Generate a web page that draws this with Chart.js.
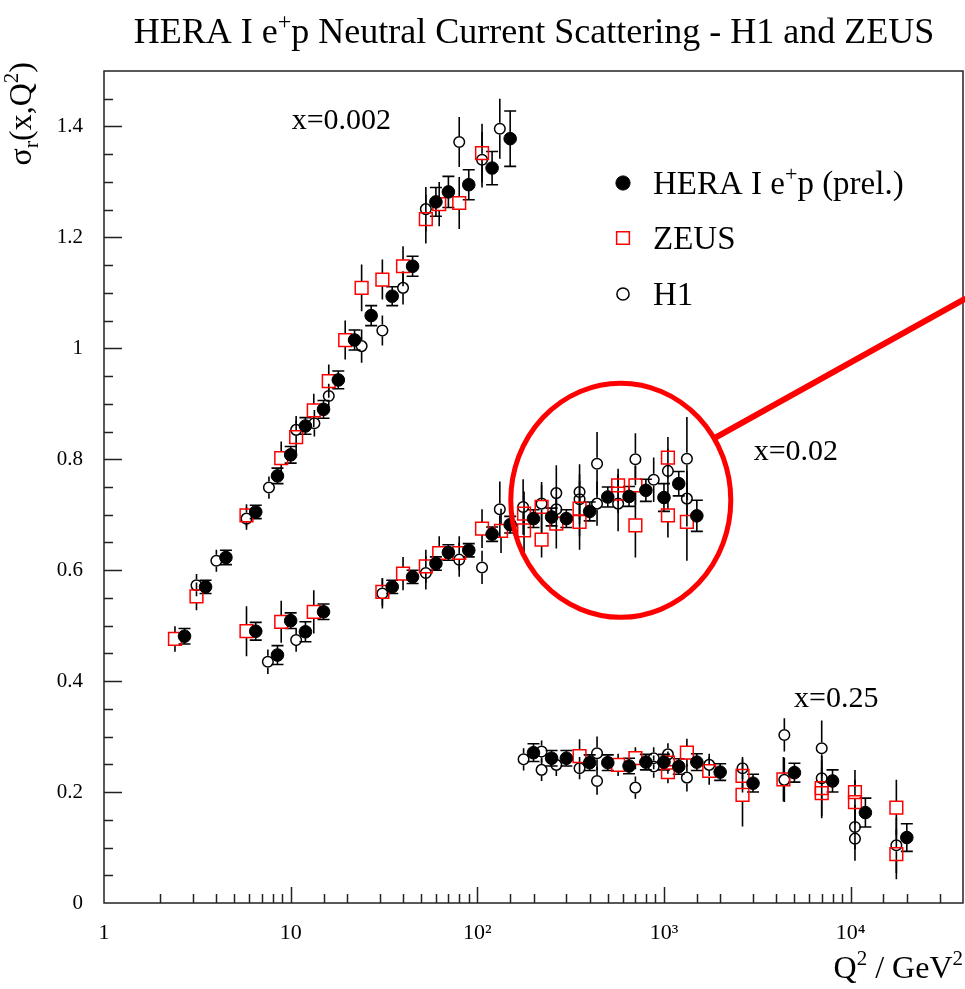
<!DOCTYPE html>
<html>
<head>
<meta charset="utf-8">
<title>HERA I e+p Neutral Current Scattering - H1 and ZEUS</title>
<script src="https://cdn.jsdelivr.net/npm/chart.js@4.4.1/dist/chart.umd.min.js"></script>
<style>
  html, body { margin: 0; padding: 0; background: #fff; }
  #c { display: block; }
</style>
</head>
<body>
<canvas id="c" width="965" height="989"></canvas>
<script>
// Valores: Q^2 (GeV^2), sigma_r, error.
// Cada serie recorre los tres bins x = 0.002, 0.02 y 0.25 en orden.

// HERA I e+p combinado (prel.)
const heraQ2 = [
  2.7, 3.5, 4.5, 6.5, 8.5, 10, 12, 15, 18, 22, 27, 35, 45, 60, 70, 90, 120, 150,
  6.5, 8.5, 10, 12, 15, 35, 45, 60, 70, 90, 120, 150, 200, 250, 300, 400, 500, 650, 800, 1000, 1200, 1500,
  200, 250, 300, 400, 500, 650, 800, 1000, 1200, 1500, 2000, 3000, 5000, 8000, 12000, 20000
];
const heraSigma = [
  0.481, 0.570, 0.623, 0.705, 0.770, 0.808, 0.860, 0.890, 0.943, 1.015, 1.059, 1.094, 1.148, 1.264, 1.282, 1.295, 1.325, 1.378,
  0.490, 0.447, 0.509, 0.489, 0.525, 0.570, 0.588, 0.612, 0.632, 0.636, 0.665, 0.682, 0.693, 0.696, 0.693, 0.706, 0.732, 0.733, 0.744, 0.731, 0.756, 0.698,
  0.271, 0.261, 0.261, 0.253, 0.253, 0.247, 0.254, 0.254, 0.246, 0.254, 0.236, 0.216, 0.235, 0.220, 0.163, 0.118
];
const heraErr = [
  0.014, 0.012, 0.013, 0.012, 0.014, 0.015, 0.015, 0.016, 0.016, 0.018, 0.018, 0.017, 0.018, 0.026, 0.028, 0.027, 0.030, 0.050,
  0.016, 0.017, 0.014, 0.018, 0.014, 0.012, 0.012, 0.012, 0.014, 0.012, 0.013, 0.015, 0.016, 0.016, 0.016, 0.017, 0.018, 0.018, 0.020, 0.025, 0.022, 0.028,
  0.016, 0.014, 0.014, 0.014, 0.014, 0.014, 0.014, 0.014, 0.014, 0.015, 0.015, 0.016, 0.017, 0.020, 0.026, 0.025
];

// ZEUS
const zeusQ2 = [
  2.4, 3.13, 5.8, 8.9, 10.7, 13.3, 16, 19.6, 24, 31, 40, 53, 62.5, 80, 106,
  5.8, 8.9, 13.3, 31, 40, 53, 62.5, 80, 106, 134, 178, 178, 221, 221, 265, 353, 353, 568, 568, 703, 703, 1050, 1050, 1327,
  353, 568, 703, 1050, 1050, 1327, 1747, 2635, 2635, 4365, 7000, 7000, 10550, 10550, 17580, 17580
];
const zeusSigma = [
  0.476, 0.553, 0.699, 0.802, 0.840, 0.888, 0.941, 1.015, 1.109, 1.124, 1.148, 1.233, 1.260, 1.262, 1.352,
  0.490, 0.507, 0.525, 0.561, 0.594, 0.607, 0.631, 0.631, 0.675, 0.671, 0.702, 0.672, 0.714, 0.655, 0.684, 0.711, 0.687, 0.753, 0.738, 0.753, 0.681, 0.803, 0.699, 0.687,
  0.265, 0.249, 0.261, 0.253, 0.236, 0.271, 0.238, 0.229, 0.195, 0.223, 0.207, 0.198, 0.200, 0.182, 0.172, 0.088
];
const zeusErr = [
  0.023, 0.025, 0.020, 0.030, 0.030, 0.030, 0.030, 0.035, 0.042, 0.036, 0.036, 0.044, 0.040, 0.047, 0.053,
  0.045, 0.038, 0.039, 0.025, 0.030, 0.030, 0.030, 0.030, 0.035, 0.040, 0.040, 0.040, 0.045, 0.032, 0.045, 0.050, 0.050, 0.030, 0.035, 0.035, 0.058, 0.037, 0.040, 0.070,
  0.030, 0.020, 0.020, 0.020, 0.020, 0.025, 0.025, 0.030, 0.057, 0.040, 0.050, 0.045, 0.040, 0.040, 0.050, 0.045
];

// H1
const h1Q2 = [
  3.13, 4.0, 5.8, 7.65, 10.7, 13.4, 16, 24, 31, 40, 53, 80, 106, 132,
  7.55, 10.7, 31, 53, 80, 106, 132, 176, 221, 265, 265, 353, 353, 438, 438, 568, 703, 881, 1050, 1327, 1327,
  177, 221, 221, 265, 353, 438, 438, 703, 881, 881, 1050, 1327, 1747, 2635, 4415, 4415, 7000, 7000, 10550, 10550, 17580
];
const h1Sigma = [
  0.573, 0.617, 0.693, 0.749, 0.853, 0.865, 0.914, 1.004, 1.032, 1.109, 1.251, 1.372, 1.340, 1.396,
  0.435, 0.474, 0.558, 0.595, 0.619, 0.605, 0.710, 0.714, 0.720, 0.739, 0.710, 0.741, 0.728, 0.792, 0.720, 0.720, 0.800, 0.763, 0.779, 0.801, 0.729,
  0.259, 0.240, 0.273, 0.249, 0.243, 0.270, 0.220, 0.208, 0.261, 0.246, 0.268, 0.226, 0.249, 0.243, 0.303, 0.222, 0.279, 0.225, 0.137, 0.116, 0.104
];
const h1Err = [
  0.020, 0.020, 0.020, 0.020, 0.025, 0.024, 0.022, 0.030, 0.027, 0.030, 0.040, 0.045, 0.050, 0.054,
  0.022, 0.021, 0.027, 0.030, 0.031, 0.030, 0.050, 0.050, 0.033, 0.050, 0.040, 0.050, 0.045, 0.057, 0.040, 0.050, 0.047, 0.040, 0.040, 0.075, 0.050,
  0.020, 0.020, 0.020, 0.020, 0.020, 0.030, 0.025, 0.020, 0.020, 0.020, 0.020, 0.025, 0.020, 0.020, 0.030, 0.040, 0.050, 0.040, 0.040, 0.040, 0.050
];

const seriesNames = ['HERA I e+p (prel.)', 'ZEUS', 'H1'];
const binLabels = ['x=0.002', 'x=0.02', 'x=0.25'];
const xTickLabels = { 1: '1', 10: '10', 100: '10²', 1000: '10³', 10000: '10⁴' };

const SERIF = "'Liberation Serif', 'Times New Roman', serif";
Chart.defaults.font.family = SERIF;
Chart.defaults.color = '#000';

const toPoints = (q, s) => q.map((v, i) => ({ x: v, y: s[i] }));

// texto con super/subindices: partes [texto, tamaño, desplazamiento]
function richWidth(ctx, parts) {
  return parts.reduce((w, p) => {
    ctx.font = p[1] + 'px ' + SERIF;
    return w + ctx.measureText(p[0]).width;
  }, 0);
}
function drawRich(ctx, parts, x, y) {
  parts.forEach(p => {
    ctx.font = p[1] + 'px ' + SERIF;
    ctx.fillText(p[0], x, y + (p[2] || 0));
    x += ctx.measureText(p[0]).width;
  });
}

const decor = {
  id: 'decor',
  // barras de error debajo de los marcadores
  beforeDatasetsDraw(chart) {
    const ctx = chart.ctx, ys = chart.scales.y;
    ctx.save();
    ctx.strokeStyle = '#000';
    ctx.lineWidth = 1.6;
    chart.data.datasets.forEach((ds, i) => {
      const meta = chart.getDatasetMeta(i);
      meta.data.forEach((pt, j) => {
        const v = ds.data[j].y, e = ds.errors[j];
        const yTop = ys.getPixelForValue(v + e), yBot = ys.getPixelForValue(v - e);
        const gap = ds.barGap || 0;
        ctx.beginPath();
        if (pt.y - gap > yTop) { ctx.moveTo(pt.x, yTop); ctx.lineTo(pt.x, pt.y - gap); }
        if (pt.y + gap < yBot) { ctx.moveTo(pt.x, pt.y + gap); ctx.lineTo(pt.x, yBot); }
        if (ds.capHalf) {
          ctx.moveTo(pt.x - ds.capHalf, yTop); ctx.lineTo(pt.x + ds.capHalf, yTop);
          ctx.moveTo(pt.x - ds.capHalf, yBot); ctx.lineTo(pt.x + ds.capHalf, yBot);
        }
        ctx.stroke();
      });
    });
    ctx.restore();
  },
  afterDraw(chart) {
    const ctx = chart.ctx, xs = chart.scales.x, ys = chart.scales.y;
    const { left, right, top, bottom } = chart.chartArea;
    ctx.save();

    // marco y marcas hacia dentro
    ctx.strokeStyle = '#222';
    ctx.lineWidth = 1.5;
    ctx.strokeRect(left, top, right - left, bottom - top);
    ctx.beginPath();
    for (let k = 1; k * 0.05 < ys.max - 1e-9; k++) {
      const py = Math.round(ys.getPixelForValue(k * 0.05)) + 0.5;
      ctx.moveTo(left, py);
      ctx.lineTo(left + (k % 4 === 0 ? 18 : 9), py);
    }
    xs.ticks.forEach(t => {
      if (t.value <= xs.min || t.value >= xs.max) return;
      const lg = Math.log10(t.value);
      const major = Math.abs(lg - Math.round(lg)) < 1e-9;
      const px = Math.round(xs.getPixelForValue(t.value)) + 0.5;
      ctx.moveTo(px, bottom);
      ctx.lineTo(px, bottom - (major ? 16 : 9));
    });
    ctx.stroke();

    ctx.fillStyle = '#000';
    ctx.textBaseline = 'alphabetic';

    // titulo
    const title = [['HERA I e', 36], ['+', 24, -14], ['p Neutral Current Scattering - H1 and ZEUS', 36]];
    drawRich(ctx, title, 534 - richWidth(ctx, title) / 2, 43);

    // titulo eje Y (rotado)
    const yTitle = [['σ', 32], ['r', 22, 7], ['(x,Q', 32], ['2', 21, -13], [')', 32]];
    ctx.save();
    ctx.translate(31, 62);
    ctx.rotate(-Math.PI / 2);
    drawRich(ctx, yTitle, -richWidth(ctx, yTitle), 0);
    ctx.restore();

    // titulo eje X
    const xTitle = [['Q', 32], ['2', 21, -13], [' / GeV', 32], ['2', 21, -13]];
    drawRich(ctx, xTitle, 963 - richWidth(ctx, xTitle), 978);

    // etiquetas de los bins de x
    const binAnchors = [[18.7, 1.414], [5090, 0.816], [8380, 0.371]];
    ctx.font = '30px ' + SERIF;
    ctx.textAlign = 'center';
    binLabels.forEach((lab, i) => {
      ctx.fillText(lab, xs.getPixelForValue(binAnchors[i][0]), ys.getPixelForValue(binAnchors[i][1]) + 10);
    });
    ctx.textAlign = 'left';

    // leyenda
    const legY = [183, 238, 294];
    chart.data.datasets.forEach((ds, i) => {
      const lx = 623, ly = legY[i];
      ctx.save();
      ctx.lineWidth = ds.pointBorderWidth;
      ctx.strokeStyle = ds.pointBorderColor;
      ctx.fillStyle = ds.pointBackgroundColor;
      ctx.beginPath();
      if (ds.pointStyle === 'rect') {
        const h = ds.pointRadius * Math.SQRT1_2;
        ctx.rect(lx - h, ly - h, 2 * h, 2 * h);
      } else {
        ctx.arc(lx, ly, ds.pointRadius + 0.8, 0, Math.PI * 2);
      }
      ctx.fill();
      ctx.stroke();
      ctx.restore();
    });
    ctx.fillStyle = '#000';
    drawRich(ctx, [['HERA I e', 33], ['+', 22, -13], ['p (prel.)', 33]], 653, legY[0] + 11);
    drawRich(ctx, [[seriesNames[1], 33]], 653, legY[1] + 11);
    drawRich(ctx, [[seriesNames[2], 33]], 653, legY[2] + 11);

    // circulo rojo de la zona ampliada
    const cx = xs.getPixelForValue(587), cy = ys.getPixelForValue(0.726);
    const rx = 110, ry = 117, a = 32 * Math.PI / 180;
    ctx.strokeStyle = '#ff0000';
    ctx.lineWidth = 5;
    ctx.beginPath();
    ctx.ellipse(cx, cy, rx, ry, 0, 0, Math.PI * 2);
    ctx.stroke();
    ctx.lineWidth = 6;
    ctx.beginPath();
    ctx.moveTo(cx + rx * Math.cos(a), cy - ry * Math.sin(a));
    ctx.lineTo(cx + 345, cy - 202);
    ctx.stroke();

    ctx.restore();
  }
};

new Chart(document.getElementById('c'), {
  type: 'scatter',
  data: {
    datasets: [
      {
        label: seriesNames[0],
        data: toPoints(heraQ2, heraSigma),
        errors: heraErr,
        capHalf: 6,
        pointStyle: 'circle',
        pointRadius: 6.3,
        pointBackgroundColor: '#000',
        pointBorderColor: '#000',
        pointBorderWidth: 1
      },
      {
        label: seriesNames[1],
        data: toPoints(zeusQ2, zeusSigma),
        errors: zeusErr,
        barGap: 6.4,
        pointStyle: 'rect',
        pointRadius: 9,
        pointBackgroundColor: 'rgba(0,0,0,0)',
        pointBorderColor: '#ff0000',
        pointBorderWidth: 1.5
      },
      {
        label: seriesNames[2],
        data: toPoints(h1Q2, h1Sigma),
        errors: h1Err,
        barGap: 6,
        pointStyle: 'circle',
        pointRadius: 5.3,
        pointBackgroundColor: 'rgba(0,0,0,0)',
        pointBorderColor: '#000',
        pointBorderWidth: 1.5
      }
    ]
  },
  options: {
    responsive: false,
    animation: false,
    events: [],
    devicePixelRatio: 1,
    // sin autoPadding: el radio de los marcadores no debe encoger el area
    layout: { autoPadding: false, padding: { top: 71, right: 2, left: 0, bottom: 0 } },
    plugins: {
      legend: { display: false },
      tooltip: { enabled: false },
      title: { display: false }
    },
    scales: {
      x: {
        type: 'logarithmic',
        min: 1,
        max: 40000,
        // las marcas se dibujan en el plugin; tickLength solo separa las etiquetas del eje
        grid: { display: false, drawTicks: true, tickLength: 15 },
        border: { display: false },
        afterFit: s => {
          s.height = 86;
          s.paddingLeft = 0;
          s.paddingRight = 0;
        },
        ticks: {
          autoSkip: false,
          maxRotation: 0,
          padding: 2,
          font: { size: 22, family: SERIF },
          color: '#000',
          callback: v => xTickLabels[v] || ''
        }
      },
      y: {
        min: 0,
        max: 1.5,
        grid: { display: false, drawTicks: false },
        border: { display: false },
        afterFit: s => { s.width = 104; },
        ticks: {
          stepSize: 0.2,
          includeBounds: false,
          padding: 21,
          font: { size: 21, family: SERIF },
          color: '#000',
          callback: v => String(Math.round(v * 10) / 10)
        }
      }
    }
  },
  plugins: [decor]
});
</script>
</body>
</html>
